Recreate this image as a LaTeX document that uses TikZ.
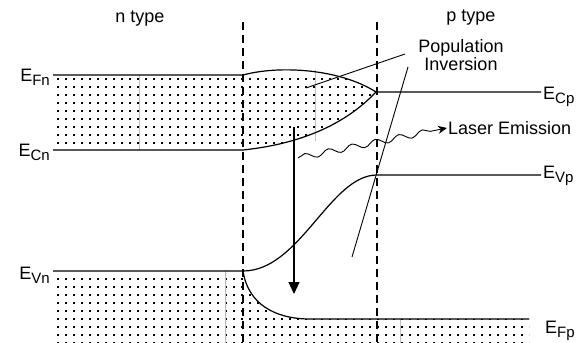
\documentclass[tikz,border=0pt]{standalone}
\usepackage{fontspec}
\setmainfont{Liberation Sans}
\usetikzlibrary{arrows.meta,decorations.pathmorphing}
\newcommand{\lvl}[1]{E\raisebox{-0.45ex}{\fontsize{15}{15}\selectfont #1}}
\newcommand{\dotgrid}[2]{\foreach \x in {#1} \foreach \y in {#2}
	\fill (\x-0.95,\y-0.95) rectangle +(1.9,1.9)}

\begin{document}
\begin{tikzpicture}[x=1pt,y=-1pt,font=\fontsize{18}{20}\selectfont,
	level/.style={line width=1.2pt},
	junction/.style={line width=1.2pt,dash pattern=on 8pt off 5pt},
	seam/.style={gray!50,line width=0.6pt}]
	\useasboundingbox (0,0) rectangle (579,343);
		\coordinate (fnL) at (53,75); \coordinate (fnR) at (243,75);
		\coordinate (cnL) at (53,150); \coordinate (cnR) at (243,150);
		\coordinate (tip) at (376,92); \coordinate (cpR) at (541,92);
		\coordinate (vnL) at (53,271); \coordinate (vnR) at (243,271);
		\coordinate (vp) at (377,175); \coordinate (vpR) at (541,175);
		\coordinate (fpL) at (310,319); \coordinate (fpR) at (529,319);
		\coordinate (jnT) at (243,22); \coordinate (jnB) at (243,343);
		\coordinate (jpT) at (377,22); \coordinate (jpB) at (377,343);
	% electrons and holes
	\begin{scope}
		\clip (fnL) -- (fnR) .. controls (280,65) and (340,69) .. (tip)
			.. controls (340,130) and (290,145) .. (cnR) -- (cnL) -- cycle;
		\dotgrid{58,66,...,378}{79,87,...,151};
	\end{scope}
	\begin{scope}
		\clip (vnL) -- (vnR) .. controls (248,304) and (275,319) .. (fpL)
			-- (fpR) -- (529,343) -- (53,343) -- cycle;
		\dotgrid{58,66,...,530}{279,287,...,343};
	\end{scope}
		\draw[seam] (139,75) -- (139,150);
		\draw[seam] (315,70) -- (315,141);
		\draw[seam] (225,271) -- (225,343);
		\draw[seam] (400,319) -- (400,343);
	% band edges
		\draw[level] (fnL) -- (fnR) .. controls (280,65) and (340,69) .. (tip) -- (cpR);
		\draw[level] (cnL) -- (cnR) .. controls (290,145) and (340,130) .. (tip);
		\draw[level] (vnL) -- (vnR) .. controls (300,271) and (330,175) .. (vp) -- (vpR);
		\draw[level] (vnR) .. controls (248,304) and (275,319) .. (fpL) -- (fpR);
		\draw[junction] (jnT) -- (jnB);
		\draw[junction] (jpT) -- (jpB);
	% labels
		\node[anchor=base east,inner sep=1pt] (efn) at (51,81.5) {\lvl{Fn}};
		\node[anchor=base east,inner sep=1pt] (ecn) at (51,156) {\lvl{Cn}};
		\node[anchor=base east,inner sep=1pt] (evn) at (51,279) {\lvl{Vn}};
		\node[anchor=base west,inner sep=1pt] (ecp) at (542,99) {\lvl{Cp}};
		\node[anchor=base west,inner sep=1pt] (evp) at (542,178) {\lvl{Vp}};
		\node[anchor=base west,inner sep=1pt] (efp) at (544,333) {\lvl{Fp}};
		\node (ntype) at (140,19) {n type};
		\node (ptype) at (471,18) {p type};
		\node[align=center,inner sep=1pt] (popinv) at (461,55) {Population\\[-2pt]Inversion};
		\node[anchor=west,inner sep=1pt] (laser) at (447,128) {Laser Emission};
		\coordinate (inv1a) at (405,54);
		\coordinate (inv1b) at (306,88);
		\coordinate (inv2a) at (408,67);
		\coordinate (inv2b) at (352,257);
		\coordinate (drop) at (294,127);
		\coordinate (drop2) at (294,294);
		\coordinate (photon) at (298,158);
	% transitions
		\draw[line width=0.9pt] (inv1a) -- (inv1b);
		\draw[line width=0.9pt] (inv2a) -- (inv2b);
		\draw[line width=1.2pt,-{Triangle[length=12pt,width=11pt]}] (drop) -- (drop2);
		\draw[line width=0.9pt,-{Stealth[length=9pt,width=8pt]},
			decorate,decoration={snake,amplitude=3pt,segment length=24pt,post length=12pt}]
			(photon) -- (laser.west);
\end{tikzpicture}
\end{document}
